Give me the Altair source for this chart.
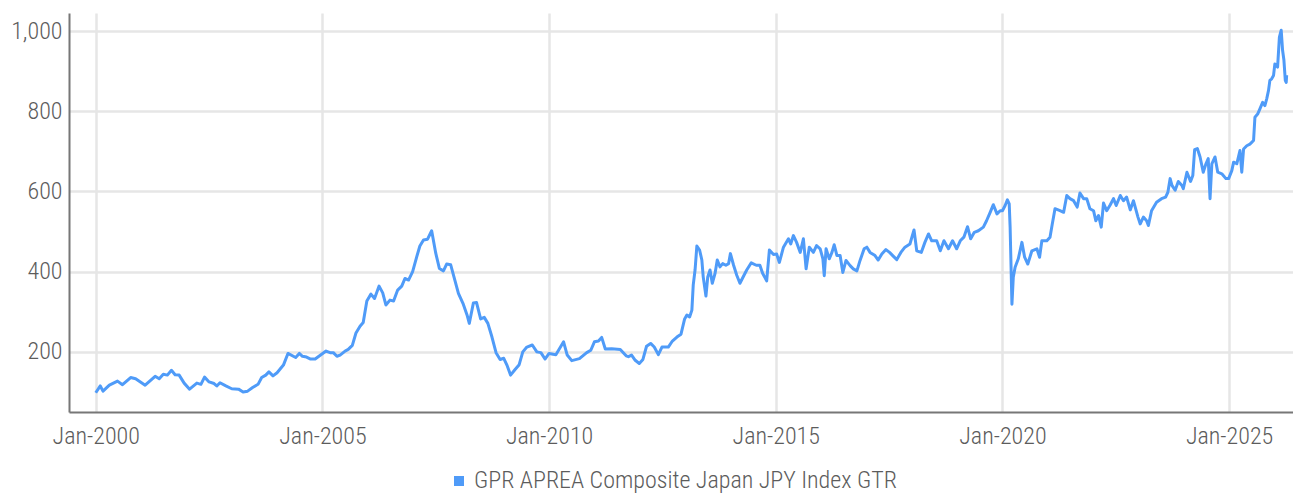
import altair as alt
import pandas as pd

SERIES = "GPR APREA Composite Japan JPY Index GTR"

# fractional year of each reading
years = [
    2000.0, 2000.1, 2000.16, 2000.3, 2000.48, 2000.59, 2000.77, 2000.88, 2001.09, 2001.31,
    2001.4, 2001.49, 2001.58, 2001.67, 2001.75, 2001.84, 2001.95, 2002.07, 2002.23, 2002.32,
    2002.4, 2002.5, 2002.61, 2002.67, 2002.74, 2002.87, 2003.0, 2003.15, 2003.25, 2003.35,
    2003.46, 2003.58, 2003.66, 2003.75, 2003.82, 2003.91, 2004.0, 2004.14, 2004.24, 2004.41,
    2004.49, 2004.56, 2004.65, 2004.74, 2004.84, 2004.96,
    2005.08, 2005.17, 2005.24, 2005.32, 2005.39, 2005.5, 2005.57, 2005.66, 2005.74, 2005.83,
    2005.9, 2005.98, 2006.07, 2006.15, 2006.25, 2006.33, 2006.4, 2006.49, 2006.57, 2006.66,
    2006.75, 2006.82, 2006.9, 2006.99, 2007.08, 2007.15, 2007.23, 2007.32, 2007.41, 2007.5,
    2007.58, 2007.67, 2007.74, 2007.83, 2007.93, 2008.0, 2008.1, 2008.19, 2008.24, 2008.33,
    2008.4, 2008.49, 2008.57, 2008.65, 2008.74, 2008.83, 2008.92, 2009.0, 2009.07, 2009.15,
    2009.25, 2009.34, 2009.42, 2009.51, 2009.63, 2009.73, 2009.82, 2009.91, 2010.0, 2010.15,
    2010.32, 2010.4, 2010.5, 2010.67, 2010.83, 2010.92, 2011.0, 2011.09, 2011.16, 2011.24,
    2011.38, 2011.57, 2011.7, 2011.75, 2011.82, 2011.9, 2011.99, 2012.07, 2012.15, 2012.24,
    2012.32, 2012.41, 2012.49, 2012.63, 2012.72, 2012.82, 2012.91, 2012.99, 2013.04, 2013.1,
    2013.15, 2013.18, 2013.22, 2013.26, 2013.32, 2013.37, 2013.4, 2013.46, 2013.5, 2013.55,
    2013.6, 2013.66, 2013.71, 2013.77, 2013.83, 2013.9, 2013.96, 2014.0, 2014.07, 2014.14,
    2014.21, 2014.3, 2014.36, 2014.46, 2014.57, 2014.65, 2014.71, 2014.8, 2014.86, 2014.95,
    2015.02, 2015.08, 2015.17, 2015.28, 2015.33, 2015.39, 2015.46, 2015.54, 2015.61, 2015.67,
    2015.74, 2015.83, 2015.9, 2015.98, 2016.04, 2016.07, 2016.11, 2016.18, 2016.24, 2016.29,
    2016.35, 2016.42, 2016.48, 2016.55, 2016.64, 2016.71, 2016.79, 2016.86, 2016.95, 2017.01,
    2017.08, 2017.19, 2017.26, 2017.34, 2017.43, 2017.51, 2017.58, 2017.67, 2017.76, 2017.85,
    2017.96, 2018.05, 2018.11, 2018.21, 2018.29, 2018.37, 2018.44, 2018.55, 2018.63, 2018.71,
    2018.81, 2018.9, 2018.99, 2019.07, 2019.15, 2019.23, 2019.3, 2019.38, 2019.47, 2019.58,
    2019.65, 2019.73, 2019.8, 2019.88, 2019.95,
    2020.0, 2020.06, 2020.11, 2020.15, 2020.17, 2020.21, 2020.24, 2020.28, 2020.35, 2020.43,
    2020.49, 2020.56, 2020.65, 2020.76, 2020.82, 2020.87, 2020.98, 2021.05, 2021.1, 2021.16,
    2021.27, 2021.35, 2021.42, 2021.49, 2021.57, 2021.65, 2021.71, 2021.79, 2021.86, 2021.93,
    2022.01, 2022.06, 2022.12, 2022.18, 2022.23, 2022.3, 2022.38, 2022.45, 2022.51, 2022.6,
    2022.67, 2022.74, 2022.82, 2022.89, 2022.99, 2023.04, 2023.11, 2023.18, 2023.22, 2023.29,
    2023.4, 2023.51, 2023.6, 2023.65, 2023.7, 2023.74, 2023.81, 2023.88, 2023.96, 2023.99,
    2024.07, 2024.15, 2024.2, 2024.24, 2024.3, 2024.36, 2024.43, 2024.49, 2024.54, 2024.58,
    2024.62, 2024.69, 2024.75, 2024.84, 2024.93, 2024.99,
    2025.06, 2025.1, 2025.17, 2025.24, 2025.28, 2025.32, 2025.39, 2025.46, 2025.54, 2025.57,
    2025.63, 2025.68, 2025.74, 2025.79, 2025.83, 2025.87, 2025.9, 2025.94, 2025.98, 2026.01,
    2026.07, 2026.11, 2026.15, 2026.18, 2026.21, 2026.24, 2026.26, 2026.27,
]

values = [
    98, 115, 102, 117, 127, 118, 136, 133, 117, 139,
    133, 144, 142, 154, 143, 142, 122, 107, 122, 119,
    137, 125, 121, 115, 123, 115, 108, 107, 100, 102,
    111, 119, 136, 142, 150, 140, 148, 167, 196, 186,
    196, 189, 187, 182, 182, 192,
    202, 198, 198, 189, 192, 202, 206, 216, 247, 264,
    273, 327, 344, 333, 364, 347, 317, 329, 327, 354,
    364, 383, 379, 400, 437, 464, 479, 481, 502, 446,
    408, 402, 419, 417, 375, 346, 321, 292, 271, 322,
    323, 282, 286, 271, 237, 198, 181, 184, 167, 142,
    156, 168, 200, 212, 217, 200, 198, 182, 196, 193,
    225, 192, 178, 183, 198, 204, 225, 227, 236, 207,
    208, 206, 190, 188, 192, 179, 171, 181, 214, 221,
    212, 193, 212, 212, 227, 237, 244, 282, 292, 287,
    304, 367, 404, 464, 454, 429, 387, 339, 387, 404,
    371, 395, 429, 412, 420, 416, 420, 445, 416, 391,
    371, 391, 404, 422, 416, 416, 396, 377, 454, 443,
    444, 423, 461, 482, 469, 490, 473, 448, 482, 407,
    461, 448, 465, 457, 432, 390, 457, 432, 448, 467,
    440, 440, 398, 428, 415, 407, 402, 428, 457, 461,
    448, 440, 429, 444, 455, 448, 440, 430, 448, 461,
    469, 504, 452, 448, 473, 494, 477, 477, 452, 477,
    457, 477, 457, 477, 486, 512, 482, 498, 502, 511,
    527, 548, 567, 544, 552,
    552, 565, 579, 569, 511, 319, 386, 411, 432, 473,
    436, 419, 452, 457, 436, 477, 477, 486, 519, 557,
    552, 548, 590, 582, 577, 561, 596, 582, 582, 557,
    552, 527, 540, 511, 571, 552, 567, 582, 565, 590,
    577, 586, 554, 577, 536, 519, 536, 527, 515, 552,
    573, 582, 586, 598, 632, 615, 603, 625, 615, 607,
    648, 625, 640, 704, 707, 686, 648, 669, 682, 582,
    669, 686, 648, 644, 632, 632,
    652, 673, 669, 702, 648, 706, 714, 718, 727, 785,
    793, 806, 822, 814, 831, 852, 877, 881, 889, 918,
    910, 985, 1002, 952, 927, 877, 872, 890,
]

y_ticks = [200, 400, 600, 800, 1000]
x_tick_years = [2000, 2005, 2010, 2015, 2020, 2025]

FONT = "Roboto Condensed, Liberation Sans Narrow, Roboto, sans-serif"
BLUE = "#4f9bf8"
TEXT = "#5c5c5c"

df = pd.DataFrame({"year": years, "value": values, "series": SERIES})

chart = (
    alt.Chart(df)
    .mark_line(strokeWidth=3, strokeJoin="round")
    .encode(
        x=alt.X(
            "year:Q",
            scale=alt.Scale(domain=[1999.41, 2026.41], nice=False, zero=False),
            axis=alt.Axis(
                values=x_tick_years,
                labelExpr="'Jan-' + datum.value",
                title=None,
                grid=True,
                ticks=False,
                tickSize=0,
                labelPadding=12,
            ),
        ),
        y=alt.Y(
            "value:Q",
            scale=alt.Scale(domain=[50, 1045], nice=False, zero=False),
            axis=alt.Axis(
                values=y_ticks,
                format=",d",
                title=None,
                grid=True,
                ticks=False,
                tickSize=0,
                labelPadding=7,
            ),
        ),
        color=alt.Color(
            "series:N",
            scale=alt.Scale(domain=[SERIES], range=[BLUE]),
            legend=alt.Legend(
                title=None,
                orient="none",
                legendX=378,
                legendY=456,
                symbolType="square",
                symbolSize=100,
                symbolStrokeWidth=0,
                symbolFillColor=BLUE,
                labelFontSize=24,
                labelFont=FONT,
                labelFontWeight=300,
                labelColor=TEXT,
                labelOffset=3,
                labelLimit=0,
            ),
        ),
    )
    .properties(
        width=1224,
        height=399,
        autosize=alt.AutoSizeParams(type="none"),
        padding={"left": 61, "top": 5, "right": 0, "bottom": 82},
    )
    .configure_view(stroke=None)
    .configure_axis(
        gridColor="#e6e6e6",
        gridWidth=2.5,
        domainColor="#777777",
        domainWidth=2,
        labelFont=FONT,
        labelFontSize=24,
        labelFontWeight=300,
        labelColor=TEXT,
    )
)

chart.save("out.html", embed_options={"renderer": "svg", "actions": False})
